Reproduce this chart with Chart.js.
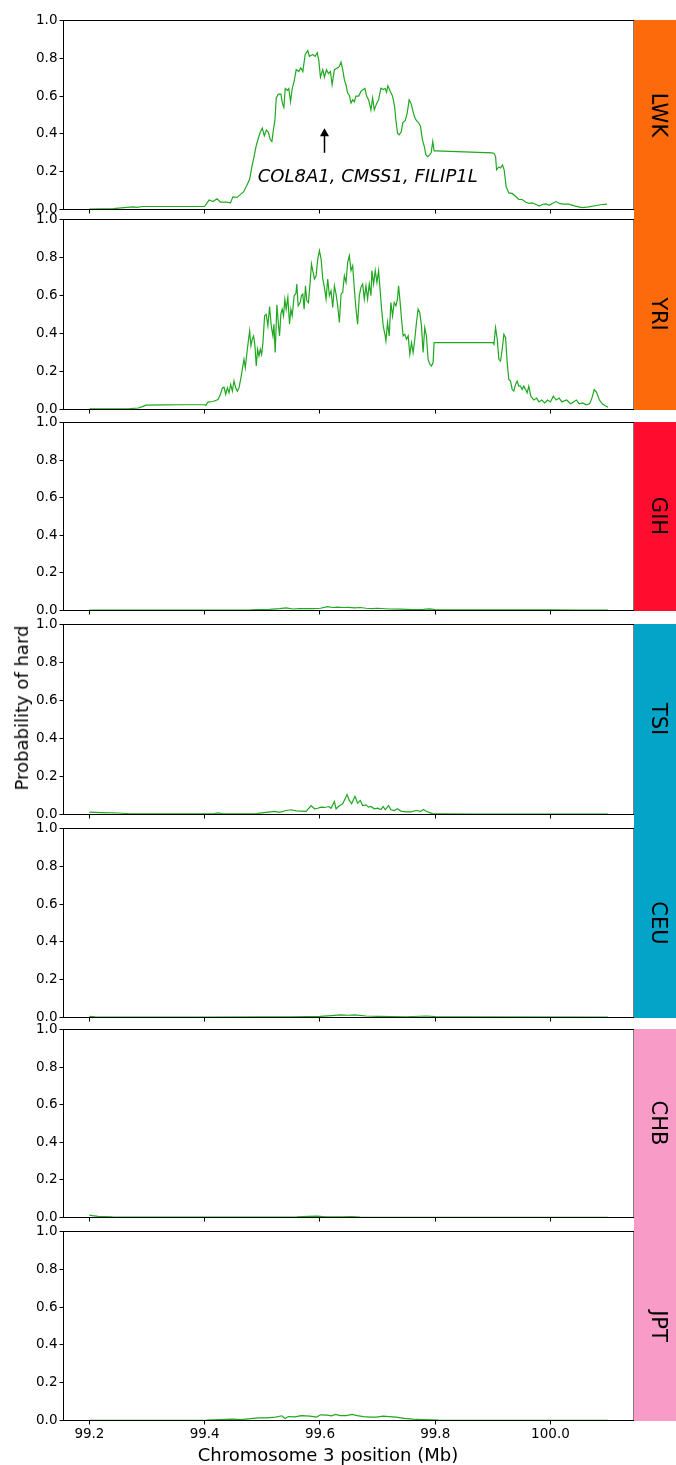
<!DOCTYPE html>
<html>
<head>
<meta charset="utf-8">
<script src="https://cdn.jsdelivr.net/npm/chart.js@4.4.0/dist/chart.umd.min.js"></script>
<style>
  html, body { margin: 0; padding: 0; background: #fff; }
  #fig { position: relative; width: 676px; height: 1465px; overflow: hidden; font-family: "DejaVu Sans", sans-serif; color: #000; }
  canvas.panel { position: absolute; left: 0; }
  .strip { position: absolute; left: 634px; width: 42px; }
  .pop { position: absolute; font-size: 21px; line-height: 21px; white-space: nowrap; transform: translate(-50%, -50%) rotate(90deg); }
  .title { position: absolute; font-size: 18px; line-height: 18px; white-space: nowrap; }
</style>
</head>
<body>
<div id="fig"></div>
<script>
// Genomic window (Mb) and tick marks shared by every panel
const xMin = 99.155, xMax = 100.145;
const xTickValues = [99.2, 99.4, 99.6, 99.8, 100.0];
const yTickValues = [0, 0.2, 0.4, 0.6, 0.8, 1.0];

const populations = ['LWK', 'YRI', 'GIH', 'TSI', 'CEU', 'CHB', 'JPT'];

// [position (Mb), probability of a hard sweep] along chromosome 3
const lwkTrack = [
  [99.2,0.002],[99.2415,0.005],[99.2647,0.011],[99.276,0.014],[99.282,0.011],[99.293,0.016],[99.334,0.016],
  [99.3997,0.016],[99.4076,0.05],[99.4145,0.042],[99.4215,0.057],[99.4273,0.039],[99.4377,0.039],[99.4446,0.035],
  [99.449,0.067],[99.456,0.064],[99.4607,0.076],[99.4676,0.094],[99.4734,0.13],[99.478,0.16],[99.4815,0.22],
  [99.485,0.27],[99.4896,0.34],[99.4924,0.37],[99.4965,0.41],[99.5,0.43],[99.5035,0.39],[99.507,0.42],
  [99.5104,0.41],[99.5138,0.37],[99.5166,0.36],[99.5196,0.43],[99.5218,0.47],[99.5242,0.59],[99.5277,0.61],
  [99.5322,0.61],[99.5351,0.56],[99.5374,0.54],[99.5398,0.64],[99.5438,0.63],[99.546,0.64],[99.549,0.57],
  [99.5519,0.64],[99.5554,0.68],[99.5588,0.74],[99.5633,0.73],[99.5668,0.75],[99.5703,0.73],[99.5744,0.82],
  [99.5789,0.84],[99.5818,0.81],[99.5876,0.82],[99.5917,0.81],[99.5952,0.83],[99.598,0.79],[99.6009,0.70],
  [99.6049,0.74],[99.6078,0.70],[99.6113,0.74],[99.6147,0.72],[99.6182,0.73],[99.6211,0.66],[99.6251,0.74],
  [99.6308,0.75],[99.6337,0.757],[99.6366,0.78],[99.6395,0.74],[99.6424,0.687],[99.6452,0.66],[99.6481,0.616],
  [99.651,0.605],[99.6539,0.563],[99.6568,0.58],[99.6597,0.57],[99.6625,0.60],[99.6672,0.60],[99.6712,0.625],
  [99.6752,0.635],[99.6781,0.64],[99.681,0.60],[99.6845,0.58],[99.6885,0.527],[99.6914,0.59],[99.6943,0.527],
  [99.6983,0.56],[99.7018,0.58],[99.7058,0.642],[99.7098,0.635],[99.7133,0.64],[99.7156,0.62],[99.7179,0.655],
  [99.7214,0.63],[99.726,0.60],[99.7294,0.55],[99.7318,0.474],[99.7346,0.404],[99.7375,0.395],[99.741,0.41],
  [99.7439,0.46],[99.7479,0.47],[99.7514,0.51],[99.7548,0.58],[99.7583,0.56],[99.7606,0.53],[99.7641,0.49],
  [99.7675,0.47],[99.771,0.46],[99.7745,0.44],[99.7779,0.368],[99.7814,0.33],[99.7837,0.29],[99.7872,0.28],
  [99.7906,0.29],[99.793,0.30],[99.7958,0.36],[99.7981,0.31],[99.801,0.31],[99.899,0.30],[99.9024,0.295],
  [99.9048,0.28],[99.9065,0.21],[99.9105,0.225],[99.9134,0.22],[99.9169,0.235],[99.9197,0.21],[99.9232,0.12],
  [99.9278,0.088],[99.9336,0.085],[99.9394,0.07],[99.9451,0.053],[99.9509,0.053],[99.9567,0.04],[99.9625,0.032],
  [99.9682,0.035],[99.974,0.028],[99.9809,0.018],[99.9867,0.028],[99.9925,0.03],[99.9982,0.022],[100.0029,0.032],
  [100.0098,0.042],[100.0155,0.032],[100.023,0.028],[100.0317,0.028],[100.0432,0.018],[100.0547,0.01],
  [100.0662,0.014],[100.0778,0.02],[100.0864,0.025],[100.098,0.028]
];

const yriTrack = [
  [99.2,0.003],[99.24,0.004],[99.27,0.005],[99.285,0.008],[99.292,0.015],[99.298,0.023],[99.33,0.024],
  [99.3569,0.025],[99.4,0.025],[99.4019,0.021],[99.4059,0.039],[99.4146,0.042],[99.4232,0.053],[99.4273,0.079],
  [99.4307,0.114],[99.4336,0.118],[99.4365,0.079],[99.4394,0.114],[99.4423,0.088],[99.4451,0.132],[99.448,0.097],
  [99.4509,0.15],[99.4538,0.114],[99.4567,0.097],[99.4596,0.114],[99.4624,0.158],[99.4653,0.211],[99.4682,0.264],
  [99.4705,0.22],[99.474,0.317],[99.478,0.414],[99.4803,0.335],[99.4826,0.37],[99.4849,0.387],[99.4872,0.335],
  [99.4895,0.229],[99.4918,0.317],[99.4942,0.282],[99.4965,0.317],[99.4988,0.29],[99.5011,0.352],[99.504,0.493],
  [99.5068,0.5],[99.5097,0.44],[99.5126,0.542],[99.5155,0.44],[99.5184,0.387],[99.5201,0.449],[99.5224,0.3],
  [99.5253,0.551],[99.5282,0.44],[99.5299,0.387],[99.5322,0.502],[99.5345,0.528],[99.5368,0.493],[99.5391,0.58],
  [99.5414,0.528],[99.5443,0.59],[99.5472,0.449],[99.5495,0.528],[99.5518,0.493],[99.5553,0.6],[99.5582,0.609],
  [99.5599,0.66],[99.5622,0.546],[99.5657,0.563],[99.568,0.6],[99.5703,0.607],[99.5726,0.528],[99.5749,0.651],
  [99.5772,0.572],[99.5801,0.563],[99.583,0.669],[99.5853,0.766],[99.5876,0.73],[99.5905,0.687],[99.5933,0.704],
  [99.5962,0.792],[99.5991,0.836],[99.602,0.792],[99.6049,0.687],[99.6078,0.643],[99.6106,0.581],[99.6135,0.687],
  [99.6164,0.599],[99.6193,0.625],[99.6222,0.537],[99.6251,0.651],[99.628,0.607],[99.6308,0.546],[99.6337,0.458],
  [99.6366,0.607],[99.6395,0.616],[99.6424,0.704],[99.6453,0.669],[99.6481,0.775],[99.651,0.81],[99.6539,0.731],
  [99.6568,0.757],[99.6597,0.634],[99.6626,0.528],[99.6654,0.449],[99.6683,0.599],[99.6712,0.643],[99.6741,0.66],
  [99.677,0.581],[99.6799,0.651],[99.6827,0.581],[99.6856,0.66],[99.6885,0.599],[99.6902,0.731],[99.6931,0.66],
  [99.696,0.731],[99.6989,0.669],[99.7018,0.731],[99.7041,0.643],[99.707,0.528],[99.7098,0.44],[99.7127,0.396],
  [99.7145,0.361],[99.7173,0.458],[99.7202,0.387],[99.7231,0.563],[99.726,0.493],[99.7289,0.563],[99.7318,0.546],
  [99.7346,0.581],[99.7364,0.651],[99.7387,0.581],[99.7416,0.475],[99.7444,0.387],[99.7473,0.396],[99.7502,0.37],
  [99.7531,0.387],[99.756,0.29],[99.7589,0.352],[99.7617,0.3],[99.7646,0.37],[99.7675,0.458],[99.7704,0.528],
  [99.7733,0.51],[99.7762,0.44],[99.779,0.3],[99.7819,0.431],[99.7848,0.387],[99.7877,0.264],[99.7906,0.238],
  [99.7935,0.229],[99.7963,0.246],[99.7981,0.352],[99.9002,0.352],[99.9019,0.343],[99.9048,0.431],[99.9077,0.37],
  [99.9105,0.264],[99.9134,0.255],[99.9163,0.317],[99.9192,0.396],[99.9221,0.378],[99.925,0.246],[99.9278,0.158],
  [99.9307,0.15],[99.9336,0.106],[99.9365,0.097],[99.9394,0.132],[99.9423,0.15],[99.9451,0.123],[99.948,0.123],
  [99.9509,0.106],[99.9538,0.123],[99.9567,0.106],[99.9596,0.088],[99.9624,0.123],[99.966,0.07],[99.971,0.05],
  [99.976,0.06],[99.98,0.04],[99.985,0.05],[99.99,0.035],[99.995,0.05],[100.0,0.04],[100.005,0.07],[100.01,0.05],
  [100.015,0.06],[100.02,0.04],[100.028,0.05],[100.035,0.03],[100.04,0.04],[100.045,0.05],[100.05,0.03],
  [100.056,0.035],[100.062,0.025],[100.068,0.03],[100.072,0.06],[100.076,0.105],[100.08,0.09],[100.085,0.05],
  [100.09,0.03],[100.095,0.02],[100.1,0.012]
];

const gihTrack = [
  [99.2,0.002],[99.3,0.002],[99.4,0.002],[99.48,0.003],[99.5126,0.006],[99.53,0.01],[99.5415,0.014],[99.553,0.008],
  [99.5645,0.01],[99.587,0.01],[99.601,0.012],[99.613,0.021],[99.622,0.016],[99.63,0.018],[99.64,0.016],
  [99.65,0.017],[99.66,0.014],[99.67,0.016],[99.68,0.012],[99.69,0.01],[99.70,0.012],[99.72,0.008],[99.74,0.007],
  [99.76,0.005],[99.78,0.006],[99.79,0.009],[99.80,0.005],[99.83,0.003],[99.9,0.003],[99.95,0.004],[100.0,0.004],
  [100.05,0.002],[100.1,0.002]
];

const tsiTrack = [
  [99.2,0.012],[99.22,0.01],[99.25,0.008],[99.27,0.004],[99.3,0.003],[99.3569,0.004],[99.4146,0.004],[99.4232,0.009],
  [99.4319,0.004],[99.4895,0.004],[99.4953,0.007],[99.5068,0.011],[99.5213,0.016],[99.5299,0.011],[99.5414,0.021],
  [99.5501,0.025],[99.5587,0.019],[99.5674,0.018],[99.576,0.016],[99.5847,0.047],[99.5905,0.03],[99.5962,0.033],
  [99.602,0.039],[99.6078,0.037],[99.6153,0.042],[99.6193,0.033],[99.6251,0.068],[99.628,0.03],[99.6337,0.046],
  [99.6395,0.056],[99.6435,0.082],[99.647,0.105],[99.651,0.074],[99.655,0.056],[99.6608,0.096],[99.6654,0.06],
  [99.67,0.074],[99.6741,0.047],[99.6799,0.051],[99.6845,0.039],[99.6885,0.042],[99.6943,0.03],[99.7,0.033],
  [99.7058,0.026],[99.7098,0.042],[99.7133,0.025],[99.7191,0.047],[99.7231,0.025],[99.7289,0.021],[99.7346,0.03],
  [99.7404,0.018],[99.7491,0.014],[99.7577,0.014],[99.7664,0.021],[99.775,0.016],[99.7796,0.026],[99.7837,0.018],
  [99.7894,0.011],[99.7952,0.005],[99.8067,0.004],[99.876,0.002],[100.0,0.002],[100.1,0.002]
];

const ceuTrack = [
  [99.2,0.006],[99.21,0.004],[99.25,0.002],[99.4,0.002],[99.5,0.003],[99.55,0.004],[99.6,0.006],[99.62,0.01],
  [99.635,0.014],[99.65,0.012],[99.66,0.014],[99.68,0.008],[99.7,0.006],[99.75,0.004],[99.785,0.008],[99.8,0.005],
  [99.85,0.003],[100.1,0.002]
];

const chbTrack = [
  [99.2,0.013],[99.205,0.01],[99.215,0.006],[99.24,0.003],[99.3,0.002],[99.5,0.002],[99.56,0.003],[99.58,0.006],
  [99.595,0.007],[99.61,0.004],[99.64,0.003],[99.655,0.005],[99.67,0.002],[99.8,0.001],[100.1,0.001]
];

const jptTrack = [
  [99.2,0.001],[99.4035,0.002],[99.4483,0.007],[99.4632,0.005],[99.493,0.014],[99.508,0.014],[99.5229,0.018],
  [99.534,0.025],[99.5393,0.011],[99.5453,0.021],[99.5564,0.019],[99.5676,0.026],[99.5825,0.023],[99.5938,0.018],
  [99.6012,0.03],[99.6124,0.028],[99.6199,0.025],[99.6273,0.032],[99.6348,0.026],[99.646,0.026],[99.6557,0.032],
  [99.6646,0.026],[99.6758,0.021],[99.687,0.018],[99.6981,0.018],[99.7093,0.023],[99.7205,0.021],[99.7317,0.018],
  [99.7467,0.011],[99.7616,0.007],[99.7765,0.005],[99.7914,0.004],[99.8064,0.002],[99.866,0.001],[100.1,0.001]
];

const tracks = [lwkTrack, yriTrack, gihTrack, tsiTrack, ceuTrack, chbTrack, jptTrack];

// Continental groups: first panel, last panel, strip colour
const groups = [
  { first: 0, last: 1, colour: '#fc6a0b' },
  { first: 2, last: 2, colour: '#ff0c2f' },
  { first: 3, last: 4, colour: '#04a3c8' },
  { first: 5, last: 6, colour: '#f99bc7' }
];

// Candidate-gene annotation in the LWK panel
const geneLabel = 'COL8A1, CMSS1, FILIP1L';
const arrowAt = 99.607, arrowFrom = 0.30, arrowTo = 0.43;
const labelAt = 99.683, labelBase = 0.147;

const lineGreen = '#1fa81f';

// Pixel rows of each panel's top and bottom spine
const panelTop = [20, 219, 422, 624, 828, 1029, 1231];
const panelBottom = [209, 409, 610, 814, 1017, 1217, 1420];

const fig = document.getElementById('fig');

const framePlugin = {
  id: 'frame',
  afterDraw(chart) {
    const { ctx, chartArea: a } = chart;
    ctx.save();
    ctx.strokeStyle = '#000';
    ctx.lineWidth = 1;
    ctx.strokeRect(a.left, a.top, a.right - a.left, a.bottom - a.top);
    ctx.restore();
  }
};

const geneNote = {
  id: 'geneNote',
  afterDatasetsDraw(chart) {
    const { ctx, scales: { x, y } } = chart;
    const ax = Math.round(x.getPixelForValue(arrowAt)) + 0.5;
    const yTail = y.getPixelForValue(arrowFrom);
    const yTip = y.getPixelForValue(arrowTo);
    ctx.save();
    ctx.strokeStyle = '#000';
    ctx.fillStyle = '#000';
    ctx.lineWidth = 1.5;
    ctx.beginPath();
    ctx.moveTo(ax, yTail);
    ctx.lineTo(ax, yTip + 6);
    ctx.stroke();
    ctx.beginPath();
    ctx.moveTo(ax, yTip);
    ctx.lineTo(ax - 4.5, yTip + 8);
    ctx.lineTo(ax + 4.5, yTip + 8);
    ctx.closePath();
    ctx.fill();
    ctx.font = 'italic 18px "DejaVu Sans"';
    ctx.textAlign = 'center';
    ctx.textBaseline = 'alphabetic';
    ctx.fillText(geneLabel, x.getPixelForValue(labelAt), y.getPixelForValue(labelBase));
    ctx.restore();
  }
};

const tickFont = { family: 'DejaVu Sans', size: 13.5 };

populations.forEach((pop, i) => {
  const isLast = i === populations.length - 1;
  const top = panelTop[i];
  const h = panelBottom[i] - top;
  const below = isLast ? 32 : 16;
  const cv = document.createElement('canvas');
  cv.className = 'panel';
  cv.width = 634;
  cv.height = h + 11 + below;
  cv.style.top = (top - 11) + 'px';
  fig.appendChild(cv);

  new Chart(cv, {
    type: 'line',
    data: {
      datasets: [{
        label: pop,
        data: tracks[i].map(([x, y]) => ({ x, y })),
        borderColor: lineGreen,
        borderWidth: 1.2,
        pointRadius: 0,
        tension: 0,
        fill: false
      }]
    },
    options: {
      responsive: false,
      animation: false,
      devicePixelRatio: 1,
      layout: { padding: { top: 11.5, right: 0, bottom: 0, left: 0 } },
      plugins: { legend: { display: false }, tooltip: { enabled: false } },
      scales: {
        x: {
          type: 'linear',
          min: xMin,
          max: xMax,
          afterBuildTicks: s => { s.ticks = xTickValues.map(v => ({ value: v })); },
          afterFit: s => { s.height = below - 0.5; },
          grid: { drawOnChartArea: false, drawTicks: true, tickLength: 4, tickColor: '#000', tickWidth: 1 },
          border: { display: false },
          ticks: {
            display: isLast, padding: 2, color: '#000', font: tickFont,
            maxRotation: 0, autoSkip: false, callback: v => Number(v).toFixed(1)
          }
        },
        y: {
          type: 'linear',
          min: 0,
          max: 1,
          afterBuildTicks: s => { s.ticks = yTickValues.map(v => ({ value: v })); },
          afterFit: s => { s.width = 63.5; },
          grid: { drawOnChartArea: false, drawTicks: true, tickLength: 4, tickColor: '#000', tickWidth: 1 },
          border: { display: false },
          ticks: { padding: 2, color: '#000', font: tickFont, autoSkip: false, callback: v => Number(v).toFixed(1) }
        }
      }
    },
    plugins: i === 0 ? [framePlugin, geneNote] : [framePlugin]
  });
});

// Coloured population strips on the right
groups.forEach(g => {
  const s = document.createElement('div');
  s.className = 'strip';
  s.style.top = panelTop[g.first] + 'px';
  s.style.height = (panelBottom[g.last] - panelTop[g.first] + 1) + 'px';
  s.style.background = g.colour;
  fig.appendChild(s);
});
populations.forEach((pop, i) => {
  const t = document.createElement('div');
  t.className = 'pop';
  t.textContent = pop;
  t.style.left = '658px';
  t.style.top = ((panelTop[i] + panelBottom[i]) / 2) + 'px';
  fig.appendChild(t);
});

// Axis titles
const xt = document.createElement('div');
xt.className = 'title';
xt.textContent = 'Chromosome 3 position (Mb)';
xt.style.left = '328px';
xt.style.top = '1454.5px';
xt.style.transform = 'translate(-50%, -50%)';
fig.appendChild(xt);

const yt = document.createElement('div');
yt.className = 'title';
yt.textContent = 'Probability of hard';
yt.style.left = '21.5px';
yt.style.top = '707.5px';
yt.style.transform = 'translate(-50%, -50%) rotate(-90deg)';
fig.appendChild(yt);
</script>
</body>
</html>
